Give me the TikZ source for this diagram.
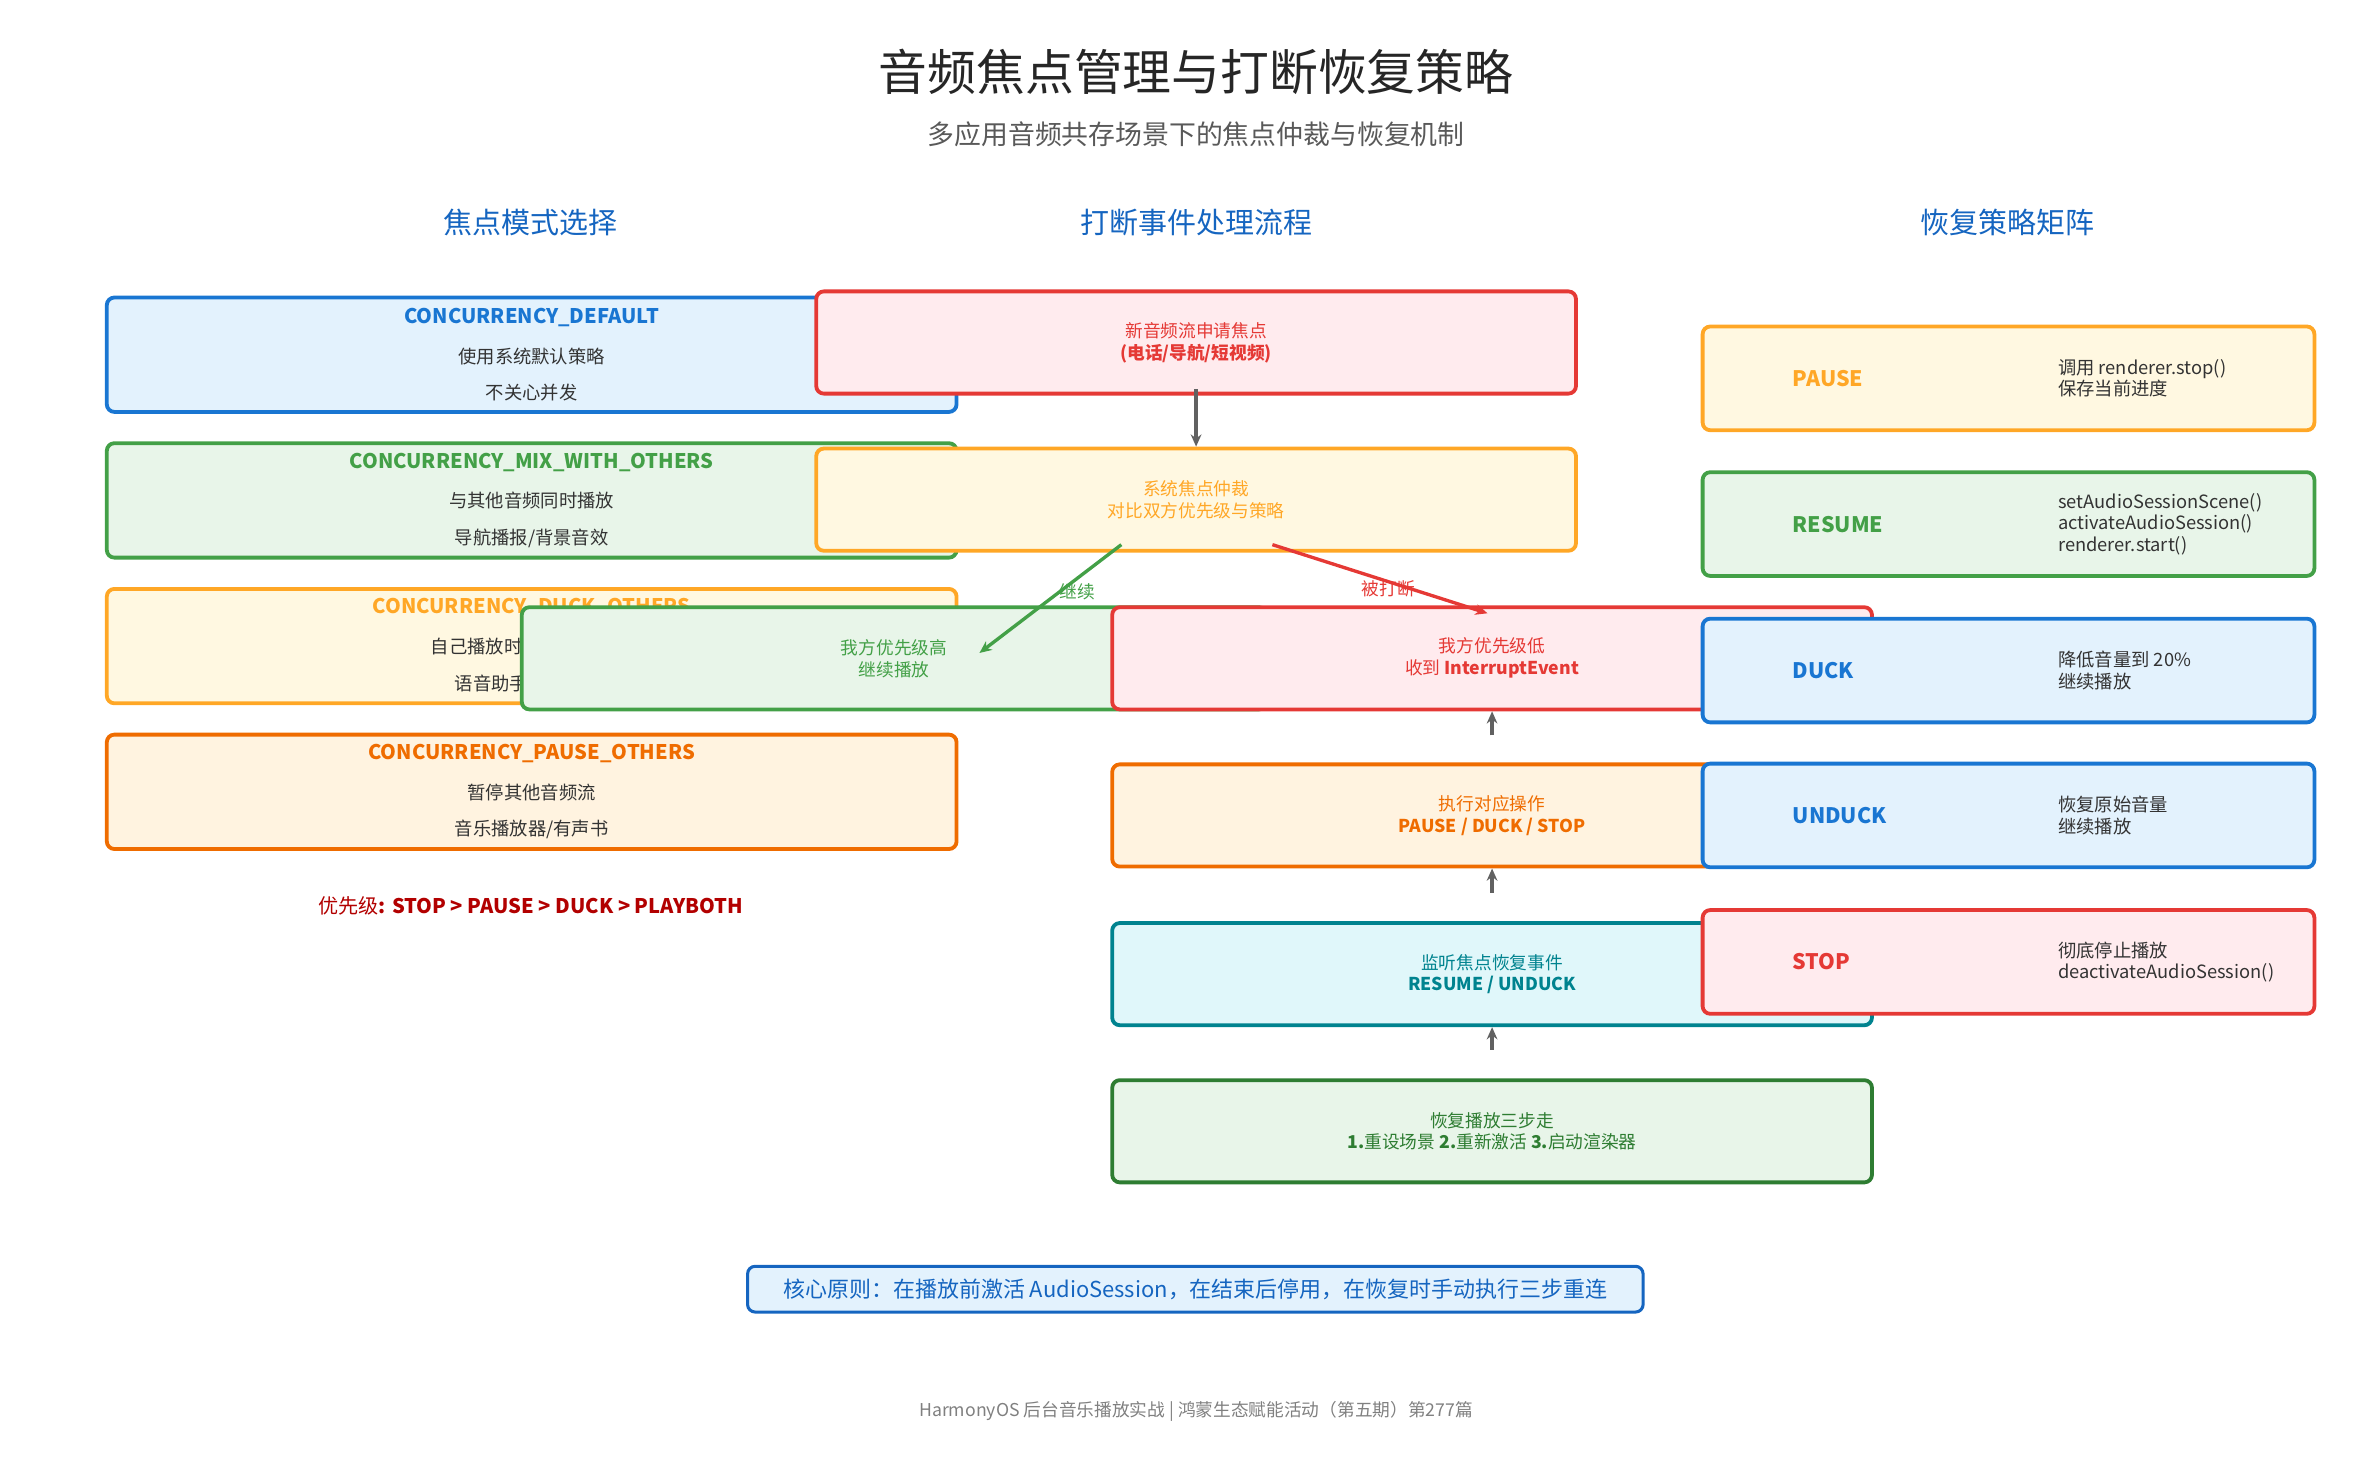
\documentclass[tikz,border=0pt]{standalone}
\usepackage{fontspec}
\setmainfont{Noto Sans CJK SC}
\usetikzlibrary{arrows.meta}
\definecolor{cBlue}{HTML}{1976D2}\definecolor{fBlue}{HTML}{E3F2FD}
\definecolor{cGreen}{HTML}{43A047}\definecolor{fGreen}{HTML}{E8F5E9}
\definecolor{cAmber}{HTML}{FFA726}\definecolor{fAmber}{HTML}{FFF8E1}
\definecolor{cOrange}{HTML}{EF6C00}\definecolor{fOrange}{HTML}{FFF3E0}
\definecolor{cRed}{HTML}{E53935}\definecolor{fRed}{HTML}{FFEBEE}
\definecolor{cTeal}{HTML}{00838F}\definecolor{fTeal}{HTML}{E0F7FA}
\definecolor{cDGreen}{HTML}{2E7D32}
\definecolor{cHead}{HTML}{1565C0}
\definecolor{cTxt}{HTML}{333333}
\definecolor{cArrow}{HTML}{616161}
\newcommand\myLT[2]{\textcolor{#1}{\fontsize{6.6}{8}\selectfont\bfseries #2}}
\newcommand\myLS[1]{\textcolor{cTxt}{\fontsize{6}{7.4}\selectfont #1}}
\begin{document}
\begin{tikzpicture}[x=0.5pt,y=-0.5pt,
 box/.style={draw=#1,line width=1.25pt,rounded corners=2.5pt,align=center,inner sep=0pt},
 lbox/.style={box=#1,minimum width=278.5pt,minimum height=37.5pt},
 mbox/.style={box=#1,minimum width=249pt,minimum height=33.5pt,font=\fontsize{5.8}{7.2}\selectfont,text=#1},
 rbox/.style={box=#1,minimum width=200.5pt,minimum height=34pt},
 rlab/.style={anchor=west,font=\fontsize{7}{8}\selectfont\bfseries,text=#1},
 rdesc/.style={anchor=west,align=left,font=\fontsize{6}{7}\selectfont,text=cTxt},
 head/.style={font=\fontsize{9.5}{11}\selectfont,text=cHead},
 garr/.style={draw=cArrow,line width=1.1pt,-{Stealth[length=4pt,width=3.5pt]}}]
\useasboundingbox (0,0) rectangle (1560,970);
\node[font=\fontsize{16}{19}\selectfont,text=black!85] (title) at (784,47) {音频焦点管理与打断恢复策略};
\node[font=\fontsize{8.8}{10}\selectfont,text=black!65] (sub) at (784,88) {多应用音频共存场景下的焦点仲裁与恢复机制};
\node[head] (h1) at (348,146) {焦点模式选择};
\node[head] (h2) at (784,146) {打断事件处理流程};
\node[head] (h3) at (1316,146) {恢复策略矩阵};
% left
\node[lbox=cBlue,fill=fBlue] (l1) at (348.5,232.5) {\myLT{cBlue}{CONCURRENCY\_DEFAULT}\\[1pt]\myLS{使用系统默认策略}\\\myLS{不关心并发}};
\node[lbox=cGreen,fill=fGreen] (l2) at (348.5,328) {\myLT{cGreen}{CONCURRENCY\_MIX\_WITH\_OTHERS}\\[1pt]\myLS{与其他音频同时播放}\\\myLS{导航播报/背景音效}};
\node[lbox=cAmber,fill=fAmber] (l3) at (348.5,423.5) {\myLT{cAmber}{CONCURRENCY\_DUCK\_OTHERS}\\[1pt]\myLS{自己播放时压低其他音量}\\\myLS{语音助手/语音消息}};
\node[lbox=cOrange,fill=fOrange] (l4) at (348.5,519) {\myLT{cOrange}{CONCURRENCY\_PAUSE\_OTHERS}\\[1pt]\myLS{暂停其他音频流}\\\myLS{音乐播放器/有声书}};
\node[font=\fontsize{6.6}{8}\selectfont,text=red!70!black] (prio) at (348,594) {优先级\textbf{: STOP > PAUSE > DUCK > PLAYBOTH}};
% middle
\node[mbox=cRed,fill=fRed] (m1) at (784,224.5) {新音频流申请焦点\\\textbf{(电话/导航/短视频)}};
\node[mbox=cAmber,fill=fAmber] (m2) at (784,327.5) {系统焦点仲裁\\对比双方优先级与策略};
\node[mbox=cGreen,fill=fGreen,minimum width=244pt] (mg) at (586,431.5) {我方优先级高\\继续播放};
\node[mbox=cRed,fill=fRed] (mr) at (978,431.5) {我方优先级低\\收到 \textbf{InterruptEvent}};
\node[mbox=cOrange,fill=fOrange] (mo) at (978,534.5) {执行对应操作\\\textbf{PAUSE / DUCK / STOP}};
\node[mbox=cTeal,fill=fTeal] (mt) at (978,638.5) {监听焦点恢复事件\\\textbf{RESUME / UNDUCK}};
\node[mbox=cDGreen,fill=fGreen] (md) at (978,741.5) {恢复播放三步走\\\textbf{1.}重设场景 \textbf{2.}重新激活 \textbf{3.}启动渲染器};
\draw[garr] (784,255) -- (m2.north);
\draw[garr,draw=cGreen] (735,357) -- (642,428);
\node[font=\fontsize{5.8}{7}\selectfont,text=cGreen] (lg) at (706,388) {继续};
\draw[garr,draw=cRed] (834,357) -- (975,402);
\node[font=\fontsize{5.8}{7}\selectfont,text=cRed] (lr) at (910,386) {被打断};
\draw[garr] (978,482) -- (mr.south);
\draw[garr] (978,585) -- (mo.south);
\draw[garr] (978,688) -- (mt.south);
% right
\node[rbox=cAmber,fill=fAmber] (r1) at (1316.5,248) {};
\node[rbox=cGreen,fill=fGreen] (r2) at (1316.5,343.5) {};
\node[rbox=cBlue,fill=fBlue] (r3) at (1316.5,439.5) {};
\node[rbox=cBlue,fill=fBlue] (r4) at (1316.5,534.5) {};
\node[rbox=cRed,fill=fRed] (r5) at (1316.5,630.5) {};
\node[rlab=cAmber] (t1) at (1168,248) {PAUSE};
\node[rlab=cGreen] (t2) at (1168,343.5) {RESUME};
\node[rlab=cBlue] (t3) at (1168,439.5) {DUCK};
\node[rlab=cBlue] (t4) at (1168,534.5) {UNDUCK};
\node[rlab=cRed] (t5) at (1168,630.5) {STOP};
\node[rdesc] (d1) at (1342,248) {调用 renderer.stop()\\保存当前进度};
\node[rdesc] (d2) at (1342,343.5) {setAudioSessionScene()\\activateAudioSession()\\renderer.start()};
\node[rdesc] (d3) at (1342,439.5) {降低音量到 20\%\\继续播放};
\node[rdesc] (d4) at (1342,534.5) {恢复原始音量\\继续播放};
\node[rdesc] (d5) at (1342,630.5) {彻底停止播放\\deactivateAudioSession()};
% bottom
\node[draw=cHead,fill=fBlue,line width=1pt,rounded corners=2.5pt,minimum width=293.5pt,minimum height=15pt,inner sep=0pt,font=\fontsize{7.2}{8}\selectfont,text=cHead] (core) at (783.5,845) {核心原则：在播放前激活 AudioSession，在结束后停用，在恢复时手动执行三步重连};
\node[font=\fontsize{5.8}{7}\selectfont,text=black!50] (foot) at (784,925) {HarmonyOS 后台音乐播放实战 | 鸿蒙生态赋能活动（第五期）第277篇};
\end{tikzpicture}
\end{document}
